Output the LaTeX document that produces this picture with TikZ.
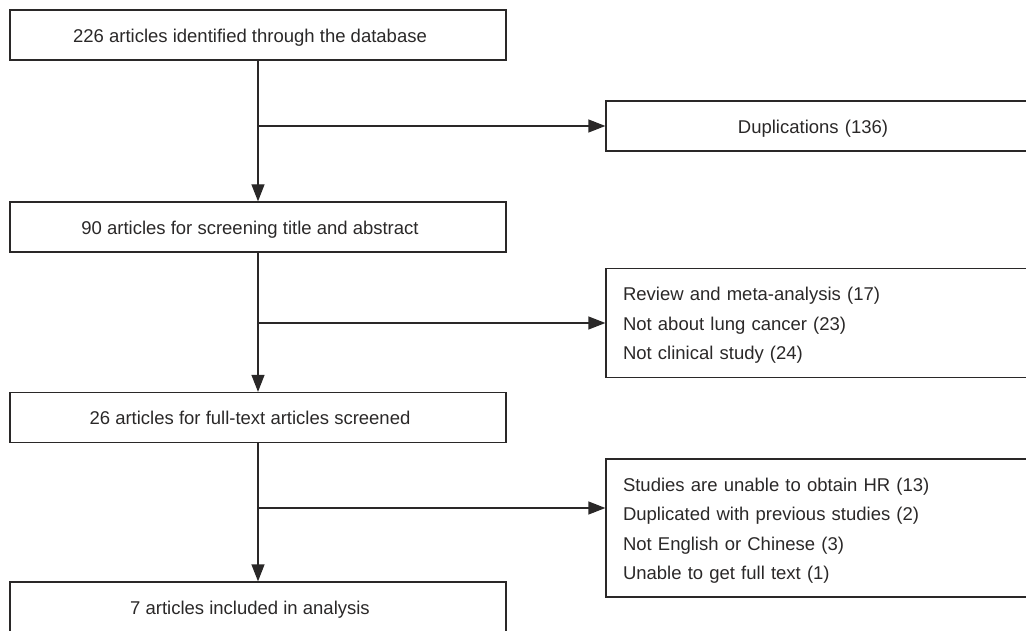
\documentclass[tikz,border=0pt]{standalone}
\usepackage{fontspec}
\setmainfont{Liberation Sans}
\usetikzlibrary{arrows.meta}
\definecolor{ink}{HTML}{2A2828}
\newcommand{\lowstrut}{\rule{0pt}{18.8pt}}
\tikzset{
  base/.style={draw=ink, line width=1.3pt, text=ink, font=\fontsize{18.5}{29.5}\selectfont},
  mainbox/.style={base, minimum width=496pt, minimum height=50pt, inner sep=0pt, text height=14.7pt, text depth=0pt},
  sidebox/.style={base, minimum width=424pt, inner xsep=17pt, inner ysep=0pt, text width=390pt},
  flow/.style={draw=ink, line width=1.3pt, -{Triangle[length=17pt,width=13pt]}}
}
\begin{document}
\begin{tikzpicture}[x=1pt,y=-1pt]
\useasboundingbox (0,0) rectangle (1026,631);
\node[mainbox] (b1) at (258,35) {226 articles identified through the database\kern16pt};
\node[mainbox] (b2) at (258,227) {90 articles for screening title and abstract\kern16pt};
\node[mainbox] (b3) at (258,417.5) {26 articles for full-text articles screened\kern16pt};
\node[mainbox] (b4) at (258,607) {7 articles included in analysis\kern16pt};

\node[sidebox, minimum height=50pt, align=center] (r1) at (818,126) {\lowstrut Duplications (136)\kern10pt};
\node[sidebox, minimum height=109pt, align=left] (r2) at (818,323) {\lowstrut Review and meta-analysis (17)\\Not about lung cancer (23)\\Not clinical study (24)};
\node[sidebox, minimum height=138pt, align=left] (r3) at (818,528) {\lowstrut Studies are unable to obtain HR (13)\\Duplicated with previous studies (2)\\Not English or Chinese (3)\\Unable to get full text (1)};

\draw[flow] (b1.south) -- (b2.north);
\draw[flow] (b2.south) -- (b3.north);
\draw[flow] (b3.south) -- (b4.north);

\coordinate (j1) at (b1.south |- r1.west);
\coordinate (j2) at (b2.south |- r2.west);
\coordinate (j3) at (258,508);
\coordinate (e3) at (r3.west |- j3);
\draw[flow] (j1) -- (r1.west);
\draw[flow] (j2) -- (r2.west);
\draw[flow] (j3) -- (e3);
\end{tikzpicture}
\end{document}
